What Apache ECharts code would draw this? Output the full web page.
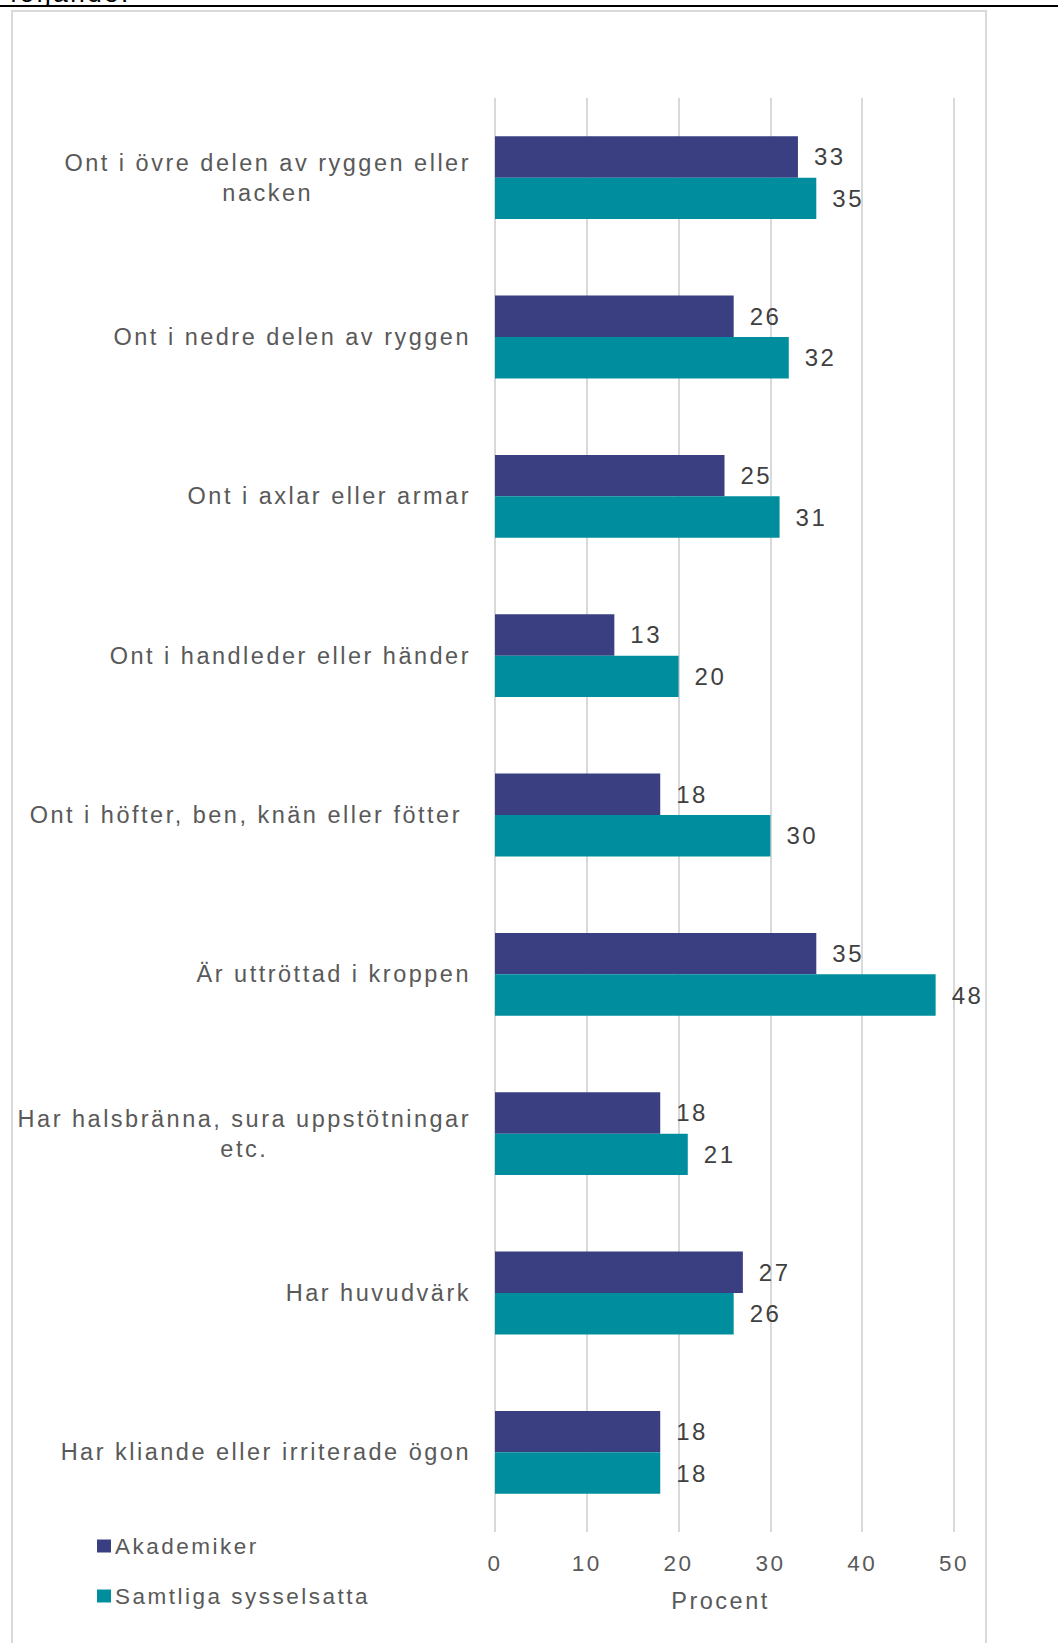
<!DOCTYPE html>
<html lang="sv">
<head>
<meta charset="utf-8">
<title>Besvär – Akademiker och samtliga sysselsatta</title>
<script src="https://cdn.jsdelivr.net/npm/echarts@6/dist/echarts.min.js"></script>
<style>
  html, body { margin: 0; padding: 0; background: #fff; }
  #chart { width: 1058px; height: 1643px; }
  /* Wide tracking for all chart texts */
  #chart svg text { letter-spacing: 2.5px; }
</style>
</head>
<body>
<div id="chart"></div>
<script>
// Categories (top to bottom)
const categories = [
  'Ont i övre delen av ryggen eller\nnacken',
  'Ont i nedre delen av ryggen',
  'Ont i axlar eller armar',
  'Ont i handleder eller händer',
  'Ont i höfter, ben, knän eller fötter ',
  'Är uttröttad i kroppen',
  'Har halsbränna, sura uppstötningar\netc.',
  'Har huvudvärk',
  'Har kliande eller irriterade ögon'
];

// Share reporting each complaint, percent
const akademiker = [33, 26, 25, 13, 18, 35, 18, 27, 18];
const samtliga = [35, 32, 31, 20, 30, 48, 21, 26, 18];

const seriesNames = ['Akademiker', 'Samtliga sysselsatta'];
const xTicks = { min: 0, max: 50, interval: 10 };
const axisTitle = 'Procent';
const headingTail = 'följande:';

const FONT = '"Liberation Sans", Arial, sans-serif';
const SPACING = 2.5;
const CAT_SIZE = 23.5;

// Measure a line as it is drawn with the extra tracking
const measureCtx = document.createElement('canvas').getContext('2d');
function trackedWidth(text, size) {
  measureCtx.font = size + 'px "Liberation Sans"';
  return measureCtx.measureText(text).width + SPACING * text.length;
}

// Two-line labels get a shared box so their lines centre on each other
const rich = {};
const labelText = categories.map((c, i) => {
  if (c.indexOf('\n') < 0) return c;
  const lines = c.split('\n');
  const w = Math.max(...lines.map(l => trackedWidth(l, CAT_SIZE)));
  const key = 'm' + i;
  rich[key] = { width: w, align: 'center', lineHeight: 30, fontSize: CAT_SIZE, fontFamily: FONT, color: '#595959' };
  return lines.map(l => '{' + key + '|' + l + '}').join('\n');
});

const chart = echarts.init(document.getElementById('chart'), null, { renderer: 'svg' });

chart.setOption({
  animation: false,
  backgroundColor: '#ffffff',
  textStyle: { fontFamily: FONT },
  graphic: [
    {
      type: 'rect',
      z: -10,
      shape: { x: 12, y: 11, width: 974, height: 1720 },
      style: { fill: 'none', stroke: '#d9d9d9', lineWidth: 2 }
    },
    {
      type: 'text',
      z: 5,
      style: { text: headingTail, x: 10, y: 6, font: '26px ' + FONT, fill: '#000', verticalAlign: 'bottom' }
    },
    {
      type: 'line',
      z: 10,
      shape: { x1: 0, y1: 6, x2: 1058, y2: 6 },
      style: { stroke: '#000', lineWidth: 2 }
    }
  ],
  grid: { left: 495, right: 104, top: 98, bottom: 111, containLabel: false },
  legend: {
    orient: 'vertical',
    left: 92,
    top: 1529,
    itemWidth: 14,
    itemHeight: 13,
    itemGap: 26,
    icon: 'rect',
    data: seriesNames,
    textStyle: { fontSize: 22.5, color: '#595959', fontFamily: FONT, lineHeight: 24, padding: [0, 0, 0, -1] }
  },
  xAxis: {
    type: 'value',
    min: xTicks.min,
    max: xTicks.max,
    interval: xTicks.interval,
    name: axisTitle,
    nameLocation: 'middle',
    nameGap: 57,
    nameTextStyle: { fontSize: 23.5, color: '#595959', fontFamily: FONT, padding: [0, 8, 0, 0] },
    axisLine: { show: false },
    axisTick: { show: false },
    axisLabel: { fontSize: 22.5, color: '#595959', fontFamily: FONT, margin: 20 },
    splitLine: { show: true, lineStyle: { color: '#d9d9d9', width: 2 } }
  },
  yAxis: {
    type: 'category',
    inverse: true,
    data: categories,
    axisLine: { show: false },
    axisTick: { show: false },
    axisLabel: {
      interval: 0,
      margin: 24,
      align: 'right',
      fontSize: CAT_SIZE,
      color: '#595959',
      fontFamily: FONT,
      formatter: (v, i) => labelText[i],
      rich: rich
    }
  },
  series: [
    {
      name: seriesNames[0],
      type: 'bar',
      data: akademiker,
      barGap: '0%',
      barCategoryGap: '48%',
      itemStyle: { color: '#3a3f81' },
      label: { show: true, position: 'right', distance: 16, fontSize: 24, color: '#404040', fontFamily: FONT }
    },
    {
      name: seriesNames[1],
      type: 'bar',
      data: samtliga,
      barGap: '0%',
      barCategoryGap: '48%',
      itemStyle: { color: '#008e9f' },
      label: { show: true, position: 'right', distance: 16, fontSize: 24, color: '#404040', fontFamily: FONT }
    }
  ]
});
</script>
</body>
</html>
